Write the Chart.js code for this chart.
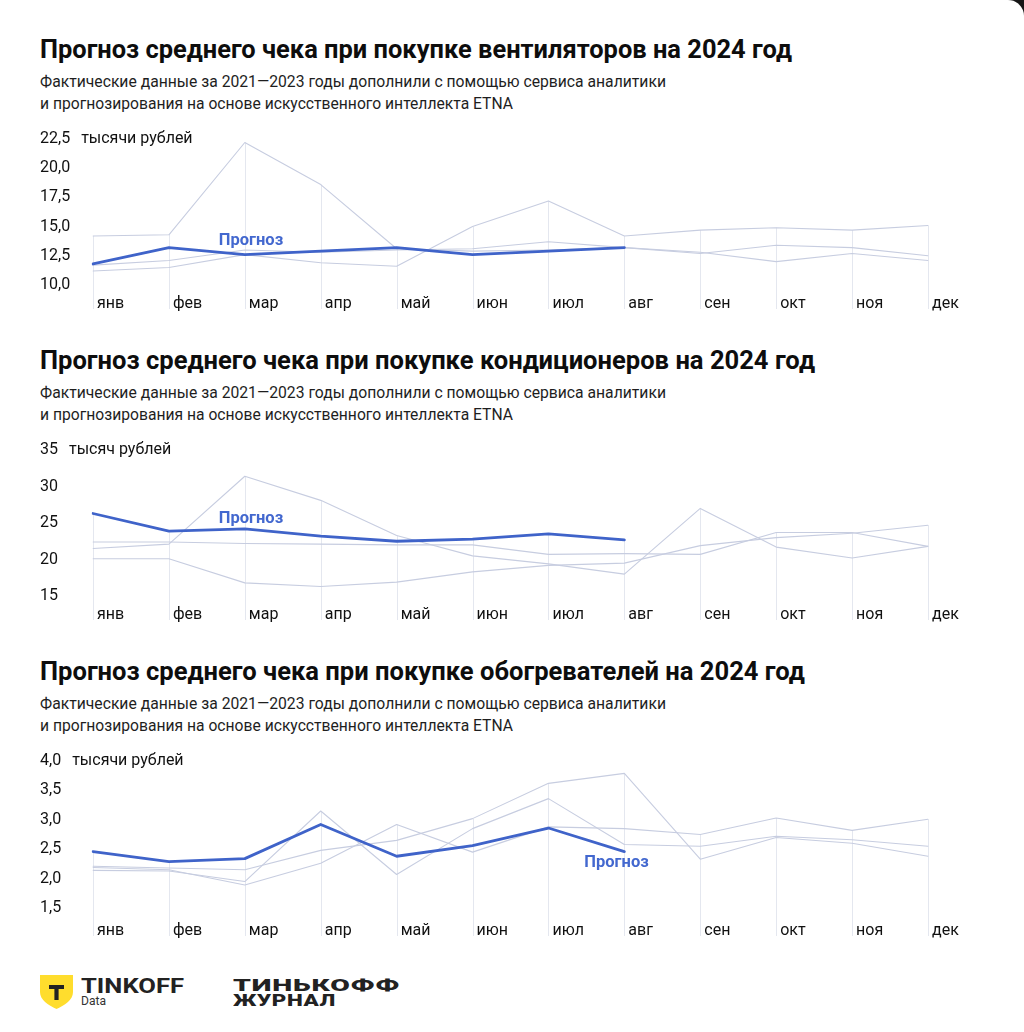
<!DOCTYPE html>
<html><head><meta charset="utf-8">
<script src="https://cdn.jsdelivr.net/npm/chart.js@4/dist/chart.umd.min.js"></script>
<style>
html,body{margin:0;padding:0;background:#161616;}
#page{position:relative;width:1024px;height:1032px;background:#fff;border-top-right-radius:16px;overflow:hidden;font-family:Roboto,"Noto Sans",sans-serif;color:#111;}
.t{position:absolute;left:40px;white-space:nowrap;transform-origin:0 0;line-height:1;}
.title{font-weight:700;font-size:25px;color:#0d0d0d;}
.sub{font-size:16.5px;color:#1e1e1e;}
.cw{position:absolute;left:0;width:1024px;height:200px;}
.logo{position:absolute;white-space:nowrap;transform-origin:0 0;line-height:1;}
</style></head>
<body><div id="page">
<div class="t title" style="top:37px" data-w="752">Прогноз среднего чека при покупке вентиляторов на 2024 год</div>
<div class="t sub" style="top:74px" data-w="626">Фактические данные за 2021—2023 годы дополнили с помощью сервиса аналитики</div>
<div class="t sub" style="top:96px" data-w="473">и прогнозирования на основе искусственного интеллекта ETNA</div>
<div class="cw" style="top:126px"><canvas id="c1"></canvas></div>

<div class="t title" style="top:348px" data-w="775">Прогноз среднего чека при покупке кондиционеров на 2024 год</div>
<div class="t sub" style="top:385px" data-w="626">Фактические данные за 2021—2023 годы дополнили с помощью сервиса аналитики</div>
<div class="t sub" style="top:407px" data-w="473">и прогнозирования на основе искусственного интеллекта ETNA</div>
<div class="cw" style="top:437px"><canvas id="c2"></canvas></div>

<div class="t title" style="top:659px" data-w="765">Прогноз среднего чека при покупке обогревателей на 2024 год</div>
<div class="t sub" style="top:696px" data-w="626">Фактические данные за 2021—2023 годы дополнили с помощью сервиса аналитики</div>
<div class="t sub" style="top:718px" data-w="473">и прогнозирования на основе искусственного интеллекта ETNA</div>
<div class="cw" style="top:748px"><canvas id="c3"></canvas></div>

<svg style="position:absolute;left:39px;top:974px" width="35" height="36" viewBox="0 0 35 36">
  <path d="M1 1 H34 V18 C34 26 26 31 17.5 35 C9 31 1 26 1 18 Z" fill="#ffdd2d"/>
  <path d="M10 11 H25 V15 H19.6 V26 H15.4 V15 H10 Z" fill="#222"/>
</svg>
<div class="logo" style="left:81px;top:976px;font-weight:700;font-size:20px;color:#222" data-w="103">TINKOFF</div>
<div class="logo" style="left:81px;top:994px;font-size:13.5px;color:#333" data-w="25">Data</div>
<div class="logo" style="left:233px;top:977px;font-weight:900;font-size:17px;color:#222;letter-spacing:0.5px" data-w="167">ТИНЬКОФФ</div>
<div class="logo" style="left:233px;top:992px;font-weight:900;font-size:17px;color:#222;letter-spacing:0.5px" data-w="103">ЖУРНАЛ</div>
</div>
<script>
const months = ['янв','фев','мар','апр','май','июн','июл','авг','сен','окт','ноя','дек'];

// Вентиляторы, тыс. руб.
const fanYTicks = [10, 12.5, 15, 17.5, 20, 22.5];
const fanFactA = [14.2, 14.3, 22.2, 18.6, 13.1, 12.9, 13.0, 13.2, 12.8, 12.0, 12.7, 12.1];
const fanFactB = [11.2, 11.5, 12.6, 11.9, 11.6, 15.0, 17.2, 14.2, 14.7, 14.9, 14.7, 15.1];
const fanFactC = [11.7, 12.1, 13.0, 12.8, 13.0, 13.1, 13.7, 13.2, 12.7, 13.4, 13.2, 12.5];
const fanForecast = [11.8, 13.2, 12.6, 12.9, 13.2, 12.6, 12.9, 13.2];

// Кондиционеры, тыс. руб.
const acYTicks = [15, 20, 25, 30, 35];
const acFactA = [22.4, 22.4, 22.2, 22.1, 22.0, 22.0, 20.7, 20.8, 20.7, 23.7, 23.7, 21.8];
const acFactB = [21.5, 22.1, 31.4, 28.1, 23.3, 20.5, 19.4, 18.0, 27.0, 21.7, 20.2, 21.8];
const acFactC = [20.1, 20.1, 16.8, 16.3, 16.9, 18.3, 19.2, 19.5, 21.9, 23.0, 23.6, 24.7];
const acForecast = [26.3, 23.9, 24.2, 23.2, 22.5, 22.8, 23.5, 22.7];

// Обогреватели, тыс. руб.
const heatYTicks = [1.5, 2.0, 2.5, 3.0, 3.5, 4.0];
const heatFactA = [2.21, 2.18, 2.15, 2.48, 2.65, 3.02, 3.62, 3.79, 2.33, 2.70, 2.60, 2.38];
const heatFactB = [2.14, 2.13, 1.95, 3.15, 2.07, 2.85, 3.36, 2.58, 2.55, 2.72, 2.66, 2.55];
const heatFactC = [2.19, 2.15, 1.89, 2.26, 2.92, 2.45, 2.88, 2.85, 2.75, 3.03, 2.82, 3.01];
const heatForecast = [2.46, 2.29, 2.34, 2.92, 2.38, 2.56, 2.86, 2.46];

const forecastLabel = 'Прогноз';

// fit text widths
document.querySelectorAll('[data-w]').forEach(el => {
  const w = el.getBoundingClientRect().width;
  el.style.transform = 'scaleX(' + (parseFloat(el.dataset.w) / w) + ')';
});

const FACT_COLOR = '#c7cde0';
const FC_COLOR = '#3f63c9';
const GRID_COLOR = '#e4e7ef';

const dropLines = {
  id: 'dropLines',
  beforeDatasetsDraw(chart, args, opts) {
    const {ctx, chartArea, scales} = chart;
    const n = chart.data.labels.length;
    ctx.save();
    ctx.strokeStyle = GRID_COLOR;
    ctx.lineWidth = 1;
    for (let i = 0; i < n; i++) {
      let mx = -Infinity;
      chart.data.datasets.forEach(ds => { const v = ds.data[i]; if (v != null && v > mx) mx = v; });
      const x = Math.round(scales.x.getPixelForValue(i)) + 0.5;
      ctx.beginPath();
      ctx.moveTo(x, scales.y.getPixelForValue(mx));
      ctx.lineTo(x, chartArea.bottom + opts.extend);
      ctx.stroke();
    }
    ctx.restore();
  }
};

const extras = {
  id: 'extras',
  afterDraw(chart, args, opts) {
    const {ctx, scales} = chart;
    const y = scales.y;
    ctx.save();
    ctx.font = '16px Roboto';
    ctx.fillStyle = '#111';
    ctx.textBaseline = 'middle';
    ctx.textAlign = 'left';
    const topTick = y.ticks[y.ticks.length - 1];
    const topLabel = opts.fmt(topTick.value);
    const tw = ctx.measureText(topLabel).width;
    ctx.fillText(opts.unit, y.left + tw + 11, y.getPixelForValue(topTick.value));
    ctx.font = 'bold 16.5px Roboto';
    ctx.fillStyle = '#4368cf';
    ctx.fillText(forecastLabel, scales.x.getPixelForValue(opts.labelIndex) + opts.labelDx,
                 y.getPixelForValue(opts.labelValue));
    ctx.restore();
  }
};

function build(id, cfg) {
  const fmt = v => cfg.dec ? v.toFixed(1).replace('.', ',') : String(v);
  new Chart(document.getElementById(id), {
    type: 'line',
    data: {
      labels: months,
      datasets: [
        {data: cfg.fc, borderColor: FC_COLOR, borderWidth: 2.8},
        {data: cfg.a, borderColor: FACT_COLOR, borderWidth: 1.1},
        {data: cfg.b, borderColor: FACT_COLOR, borderWidth: 1.1},
        {data: cfg.c, borderColor: FACT_COLOR, borderWidth: 1.1}
      ]
    },
    options: {
      responsive: true,
      maintainAspectRatio: false,
      animation: false,
      events: [],
      layout: {padding: {top: 13, left: 40, right: 96, bottom: 0}},
      elements: {point: {radius: 0}, line: {tension: 0, borderJoinStyle: 'round', borderCapStyle: 'round'}},
      plugins: {
        legend: {display: false}, tooltip: {enabled: false},
        dropLines: {extend: cfg.pad + 15},
        extras: {unit: cfg.unit, fmt, labelIndex: cfg.li, labelDx: cfg.ldx, labelValue: cfg.lv}
      },
      scales: {
        x: {
          offset: false,
          grid: {display: false, drawTicks: false},
          border: {display: false},
          ticks: {align: 'start', labelOffset: 4, padding: cfg.pad, color: '#111', font: {size: 16, family: 'Roboto'}, autoSkip: false, maxRotation: 0},
          afterFit: s => { s.height = 200 - cfg.bottom; }
        },
        y: {
          min: cfg.ticks[0], max: cfg.ticks[cfg.ticks.length - 1],
          grid: {display: false, drawTicks: false},
          border: {display: false},
          afterBuildTicks: s => { s.ticks = cfg.ticks.map(v => ({value: v})); },
          ticks: {crossAlign: 'far', padding: 0, color: '#111', font: {size: 16, family: 'Roboto'}, callback: v => fmt(v)},
          afterFit: s => { s.width = 53; }
        }
      }
    },
    plugins: [dropLines, extras]
  });
}

build('c1', {a: fanFactA, b: fanFactB, c: fanFactC, fc: fanForecast, ticks: fanYTicks, dec: true,
  unit: 'тысячи рублей', li: 2, ldx: -26, lv: 13.8, pad: 9, bottom: 159});
build('c2', {a: acFactA, b: acFactB, c: acFactC, fc: acForecast, ticks: acYTicks, dec: false,
  unit: 'тысяч рублей', li: 2, ldx: -26, lv: 25.5, pad: 9, bottom: 159});
build('c3', {a: heatFactA, b: heatFactB, c: heatFactC, fc: heatForecast, ticks: heatYTicks, dec: true,
  unit: 'тысячи рублей', li: 7, ldx: -40, lv: 2.27, pad: 13, bottom: 160});
</script>
</body></html>
